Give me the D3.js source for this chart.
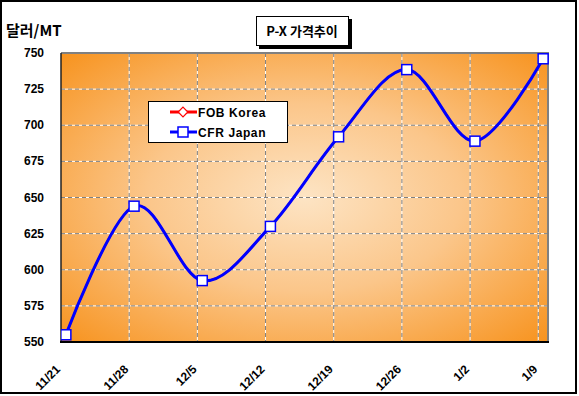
<!DOCTYPE html>
<html>
<head>
<meta charset="utf-8">
<script src="https://cdn.jsdelivr.net/npm/d3@7"></script>
<style>
  body { margin: 0; background: #ffffff; }
  .tickLabel { font-family: Arial, "Liberation Sans", sans-serif; font-weight: bold; font-size: 12px; fill: #000; }
  .legendText { font-family: Arial, "Liberation Sans", sans-serif; font-weight: bold; font-size: 12px; fill: #000; letter-spacing: 0.6px; }
  .korTitle { font-family: "Noto Sans CJK KR", Arial, sans-serif; font-weight: bold; fill: #000; }
</style>
</head>
<body>
<div id="chartdiv"></div>
<script>
//Chart data
let dates = ["2007-11-21", "2007-11-28", "2007-12-05", "2007-12-12", "2007-12-19", "2007-12-26", "2008-01-02", "2008-01-09"];
let dateLabels = ["11/21", "11/28", "12/5", "12/12", "12/19", "12/26", "1/2", "1/9"];
let cfrJapan = [555, 644, 592.5, 630, 692, 738.5, 689, 746];
let fobKorea = [555, 644, 592.5, 630, 692, 738.5, 689, 746];
let yTicks = [550, 575, 600, 625, 650, 675, 700, 725, 750];
let axisEnd = "2008-01-10";

let width = 579;
let height = 396;
let plotLeft = 61;
let plotRight = 548;
let plotTop = 53;
let plotBottom = 342;

let svg = d3.select('#chartdiv').append('svg')
  .attr('width', width)
  .attr('height', height);

let parseDay = d3.utcParse("%Y-%m-%d");
let tickDates = dates.map(parseDay);
//points sit in the middle of their day on the date axis
let pointDates = tickDates.map(function (d) { return d3.utcHour.offset(d, 12); });

let xScale = d3.scaleUtc()
  .domain([tickDates[0], parseDay(axisEnd)])
  .range([plotLeft, plotRight]);
let yScale = d3.scaleLinear()
  .domain([550, 750])
  .range([plotBottom, plotTop]);

//Radial background of the plot area
let defs = svg.append('defs');
let grad = defs.append('radialGradient')
  .attr('id', 'plotGrad')
  .attr('cx', '50%').attr('cy', '50%').attr('r', '72%');
grad.append('stop').attr('offset', '0%').attr('stop-color', '#fde4c4');
grad.append('stop').attr('offset', '45%').attr('stop-color', '#fbc68a');
grad.append('stop').attr('offset', '100%').attr('stop-color', '#f7911a');
defs.append('clipPath').attr('id', 'plotClip')
  .append('rect')
  .attr('x', plotLeft).attr('y', plotTop - 6)
  .attr('width', plotRight - plotLeft + 6).attr('height', plotBottom - plotTop + 6);

//Outer frame
svg.append('rect')
  .attr('x', 1).attr('y', 1)
  .attr('width', 575).attr('height', 392)
  .attr('fill', '#ffffff')
  .attr('stroke', '#000')
  .attr('stroke-width', 2);

svg.append('rect')
  .attr('x', plotLeft).attr('y', plotTop)
  .attr('width', plotRight - plotLeft).attr('height', plotBottom - plotTop)
  .attr('fill', 'url(#plotGrad)');

//Grid lines (white under gray dashes)
let grid = svg.append('g');
let hLines = yTicks.slice(1, -1);
let vDates = tickDates.slice(1);
[['#ffffff', null], ['#7f7f7f', '4,3']].forEach(function (st) {
  grid.selectAll(null)
    .data(hLines)
    .enter().append('line')
    .attr('x1', plotLeft).attr('x2', plotRight)
    .attr('y1', function (d) { return yScale(d); })
    .attr('y2', function (d) { return yScale(d); })
    .attr('stroke', st[0]).attr('stroke-width', 1)
    .attr('stroke-dasharray', st[1]);
  grid.selectAll(null)
    .data(vDates)
    .enter().append('line')
    .attr('x1', function (d) { return xScale(d); })
    .attr('x2', function (d) { return xScale(d); })
    .attr('y1', plotTop).attr('y2', plotBottom)
    .attr('stroke', st[0]).attr('stroke-width', 1)
    .attr('stroke-dasharray', st[1]);
});

//Plot area border: gray top/right, black axes left/bottom
svg.append('path')
  .attr('d', `M${plotLeft},${plotTop}H${plotRight}V${plotBottom}`)
  .attr('fill', 'none').attr('stroke', '#808080').attr('stroke-width', 2);
svg.append('line')
  .attr('x1', plotLeft).attr('x2', plotLeft)
  .attr('y1', plotTop).attr('y2', plotBottom)
  .attr('stroke', '#222').attr('stroke-width', 1.5);
svg.append('line')
  .attr('x1', plotLeft - 1).attr('x2', plotRight + 1)
  .attr('y1', plotBottom).attr('y2', plotBottom)
  .attr('stroke', '#000').attr('stroke-width', 2);

//Y axis labels
svg.append('g').selectAll('text')
  .data(yTicks)
  .enter().append('text')
  .attr('class', 'tickLabel')
  .attr('text-anchor', 'end')
  .attr('x', 44)
  .attr('y', function (d) { return yScale(d) + 4; })
  .text(function (d) { return d; });

//X axis labels, rotated
svg.append('g').selectAll('text')
  .data(tickDates)
  .enter().append('text')
  .attr('class', 'tickLabel')
  .attr('text-anchor', 'end')
  .attr('transform', function (d) { return `translate(${xScale(d)}, ${plotBottom + 28}) rotate(-45)`; })
  .text(function (d, i) { return dateLabels[i]; });

//Series lines
let lineGen = d3.line()
  .x(function (d) { return xScale(d.date); })
  .y(function (d) { return yScale(d.value); })
  .curve(d3.curveCardinal.tension(0));

let fobData = pointDates.map(function (d, i) { return { date: d, value: fobKorea[i] }; });
let cfrData = pointDates.map(function (d, i) { return { date: d, value: cfrJapan[i] }; });

let series = svg.append('g').attr('clip-path', 'url(#plotClip)');
series.append('path')
  .datum(fobData)
  .attr('d', lineGen)
  .attr('fill', 'none').attr('stroke', '#ff0000').attr('stroke-width', 2);
series.selectAll('.fobMark')
  .data(fobData)
  .enter().append('path')
  .attr('class', 'fobMark')
  .attr('d', d3.symbol().type(d3.symbolDiamond2).size(50))
  .attr('transform', function (d) { return `translate(${xScale(d.date)}, ${yScale(d.value)})`; })
  .attr('fill', '#fff').attr('stroke', '#ff0000').attr('stroke-width', 1);

series.append('path')
  .datum(cfrData)
  .attr('d', lineGen)
  .attr('fill', 'none').attr('stroke', '#0000ff').attr('stroke-width', 3);
series.selectAll('.cfrMark')
  .data(cfrData)
  .enter().append('rect')
  .attr('class', 'cfrMark')
  .attr('x', function (d) { return xScale(d.date) - 5; })
  .attr('y', function (d) { return yScale(d.value) - 5; })
  .attr('width', 10).attr('height', 10)
  .attr('fill', '#fff').attr('stroke', '#0000ff').attr('stroke-width', 1.5);

//Legend
let legend = svg.append('g');
legend.append('rect')
  .attr('x', 148.5).attr('y', 101.5)
  .attr('width', 139).attr('height', 41)
  .attr('fill', '#fff').attr('stroke', '#000').attr('stroke-width', 1);
let legendItems = [
  { name: "FOB Korea", color: '#ff0000', mark: 'diamond', y: 112 },
  { name: "CFR Japan", color: '#0000ff', mark: 'square', y: 132 }
];
legendItems.forEach(function (it) {
  legend.append('line')
    .attr('x1', 170).attr('x2', 197)
    .attr('y1', it.y).attr('y2', it.y)
    .attr('stroke', it.color).attr('stroke-width', 3);
  if (it.mark == 'diamond') {
    legend.append('path')
      .attr('d', d3.symbol().type(d3.symbolDiamond2).size(60))
      .attr('transform', `translate(183, ${it.y})`)
      .attr('fill', '#fff').attr('stroke', it.color).attr('stroke-width', 1.2);
  } else {
    legend.append('rect')
      .attr('x', 178).attr('y', it.y - 5)
      .attr('width', 10).attr('height', 10)
      .attr('fill', '#fff').attr('stroke', it.color).attr('stroke-width', 1.5);
  }
  legend.append('text')
    .attr('class', 'legendText')
    .attr('x', 198)
    .attr('y', it.y + 4.5)
    .text(it.name);
});

//Title box with shadow
svg.append('rect')
  .attr('x', 259).attr('y', 19)
  .attr('width', 93).attr('height', 30)
  .attr('fill', '#000');
svg.append('rect')
  .attr('x', 256.5).attr('y', 16.5)
  .attr('width', 92).attr('height', 29)
  .attr('fill', '#fff').attr('stroke', '#000').attr('stroke-width', 1);
svg.append('text')
  .attr('class', 'korTitle')
  .attr('x', 302).attr('y', 36)
  .attr('text-anchor', 'middle')
  .style('font-size', '13px')
  .text("P-X 가격추이");

//Units label
svg.append('text')
  .attr('class', 'korTitle')
  .attr('x', 6).attr('y', 36)
  .style('font-size', '15px')
  .text("달러/MT");
</script>
</body>
</html>
